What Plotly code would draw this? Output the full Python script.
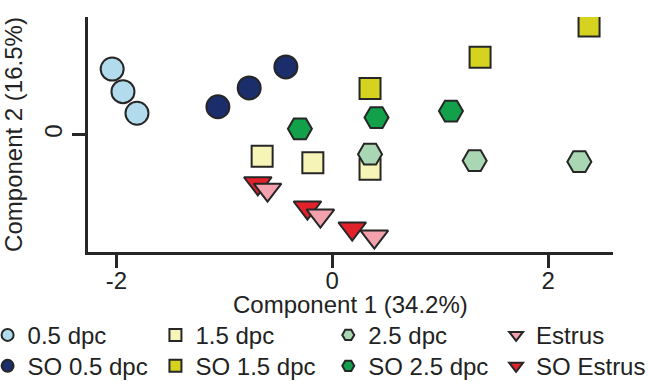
import plotly.graph_objects as go

# ---- data ----
dpc05_x = [-2.04, -1.94, -1.81]
dpc05_y = [0.61, 0.40, 0.20]
so05_x = [-1.06, -0.77, -0.43]
so05_y = [0.26, 0.435, 0.63]
dpc15_x = [-0.65, -0.18, 0.35]
dpc15_y = [-0.20, -0.26, -0.32]
so15_x = [0.35, 1.37, 2.38]
so15_y = [0.43, 0.72, 1.01]
dpc25_x = [0.35, 1.32, 2.29]
dpc25_y = [-0.18, -0.24, -0.25]
so25_x = [-0.30, 0.41, 1.10]
so25_y = [0.055, 0.16, 0.22]
estrus_x = [-0.60, -0.11, 0.39]
estrus_y = [-0.51, -0.75, -0.945]
soestrus_x = [-0.69, -0.23, 0.185]
soestrus_y = [-0.45, -0.675, -0.87]

x_ticks = [-2, 0, 2]
x_ticktext = ["-2", "0", "2"]
y_ticks = [0]
y_ticktext = ["0"]

FONT = "Liberation Sans, Arial, Helvetica, sans-serif"
EDGE = "#262626"
TXT = "#222222"

W, H = 648, 385
gl, gr, gt, gb = 87.5, 35, 17, 132.5
pw = W - gl - gr
ph = H - gt - gb

# legend grid (pixel positions of legend item starts / row centres)
col_start = [-13, 155, 328, 496]
row_mid = [336, 367]

series = [
    # name, x, y, symbol, color, size, column, row
    ("SO 0.5 dpc", so05_x, so05_y, "circle", "#1b2d6b", 23, 0, 1),
    ("0.5 dpc", dpc05_x, dpc05_y, "circle", "#b3dbee", 23, 0, 0),
    ("1.5 dpc", dpc15_x, dpc15_y, "square", "#f7f4b8", 21, 1, 0),
    ("SO 1.5 dpc", so15_x, so15_y, "square", "#d5d320", 21, 1, 1),
    ("2.5 dpc", dpc25_x, dpc25_y, "hexagon2", "#aad7b3", 24, 2, 0),
    ("SO 2.5 dpc", so25_x, so25_y, "hexagon2", "#12a04a", 24, 2, 1),
    ("SO Estrus", soestrus_x, soestrus_y, "triangle-down", "#e3212b", 24, 3, 1),
    ("Estrus", estrus_x, estrus_y, "triangle-down", "#f2a1ad", 24, 3, 0),
]

fig = go.Figure()
legend_layouts = {}
for i, (name, xs, ys, sym, col, size, c, r) in enumerate(series):
    key = "legend" if i == 0 else f"legend{i + 1}"
    fig.add_trace(go.Scatter(
        x=xs, y=ys, mode="markers", name=name,
        marker=dict(symbol=sym, color=col, size=size,
                    line=dict(color=EDGE, width=2)),
        legend=key,
    ))
    legend_layouts[key] = dict(
        orientation="h", xanchor="left", yanchor="middle",
        x=(col_start[c] - gl) / pw,
        y=1 - (row_mid[r] - gt) / ph,
        font=dict(family=FONT, size=24, color=TXT),
        itemsizing="constant", bgcolor="rgba(0,0,0,0)",
    )

fig.update_layout(
    width=W, height=H,
    margin=dict(l=gl, r=gr, t=gt, b=gb, autoexpand=False),
    paper_bgcolor="white", plot_bgcolor="white",
    font=dict(family=FONT, size=24, color=TXT),
    showlegend=True,
    **legend_layouts,
    xaxis=dict(
        range=[-2.264, 2.602], showgrid=False, zeroline=False,
        showline=True, linecolor=EDGE, linewidth=3,
        ticks="outside", ticklen=13, tickwidth=2.5, tickcolor=EDGE,
        tickvals=x_ticks, ticktext=x_ticktext, ticklabelstandoff=-8,
        tickfont=dict(family=FONT, size=24, color=TXT),
        automargin=False,
    ),
    yaxis=dict(
        range=[-1.088, 1.093], showgrid=False, zeroline=False,
        showline=True, linecolor=EDGE, linewidth=3,
        ticks="outside", ticklen=13, tickwidth=2.5, tickcolor=EDGE,
        tickvals=y_ticks, ticktext=y_ticktext, tickangle=-90,
        tickfont=dict(family=FONT, size=24, color=TXT),
        title=dict(text="Component 2 (16.5%)", standoff=15,
                   font=dict(family=FONT, size=24, color=TXT)),
        automargin=False,
    ),
    annotations=[dict(
        text="Component 1 (34.2%)", xref="paper", yref="paper",
        x=0.5, y=1 - (305 - gt) / ph, xanchor="center", yanchor="middle",
        showarrow=False, font=dict(family=FONT, size=24, color=TXT),
    )],
)

fig.write_html("out.html", config={"displayModeBar": False},
               post_script="document.body.style.margin='0';")
